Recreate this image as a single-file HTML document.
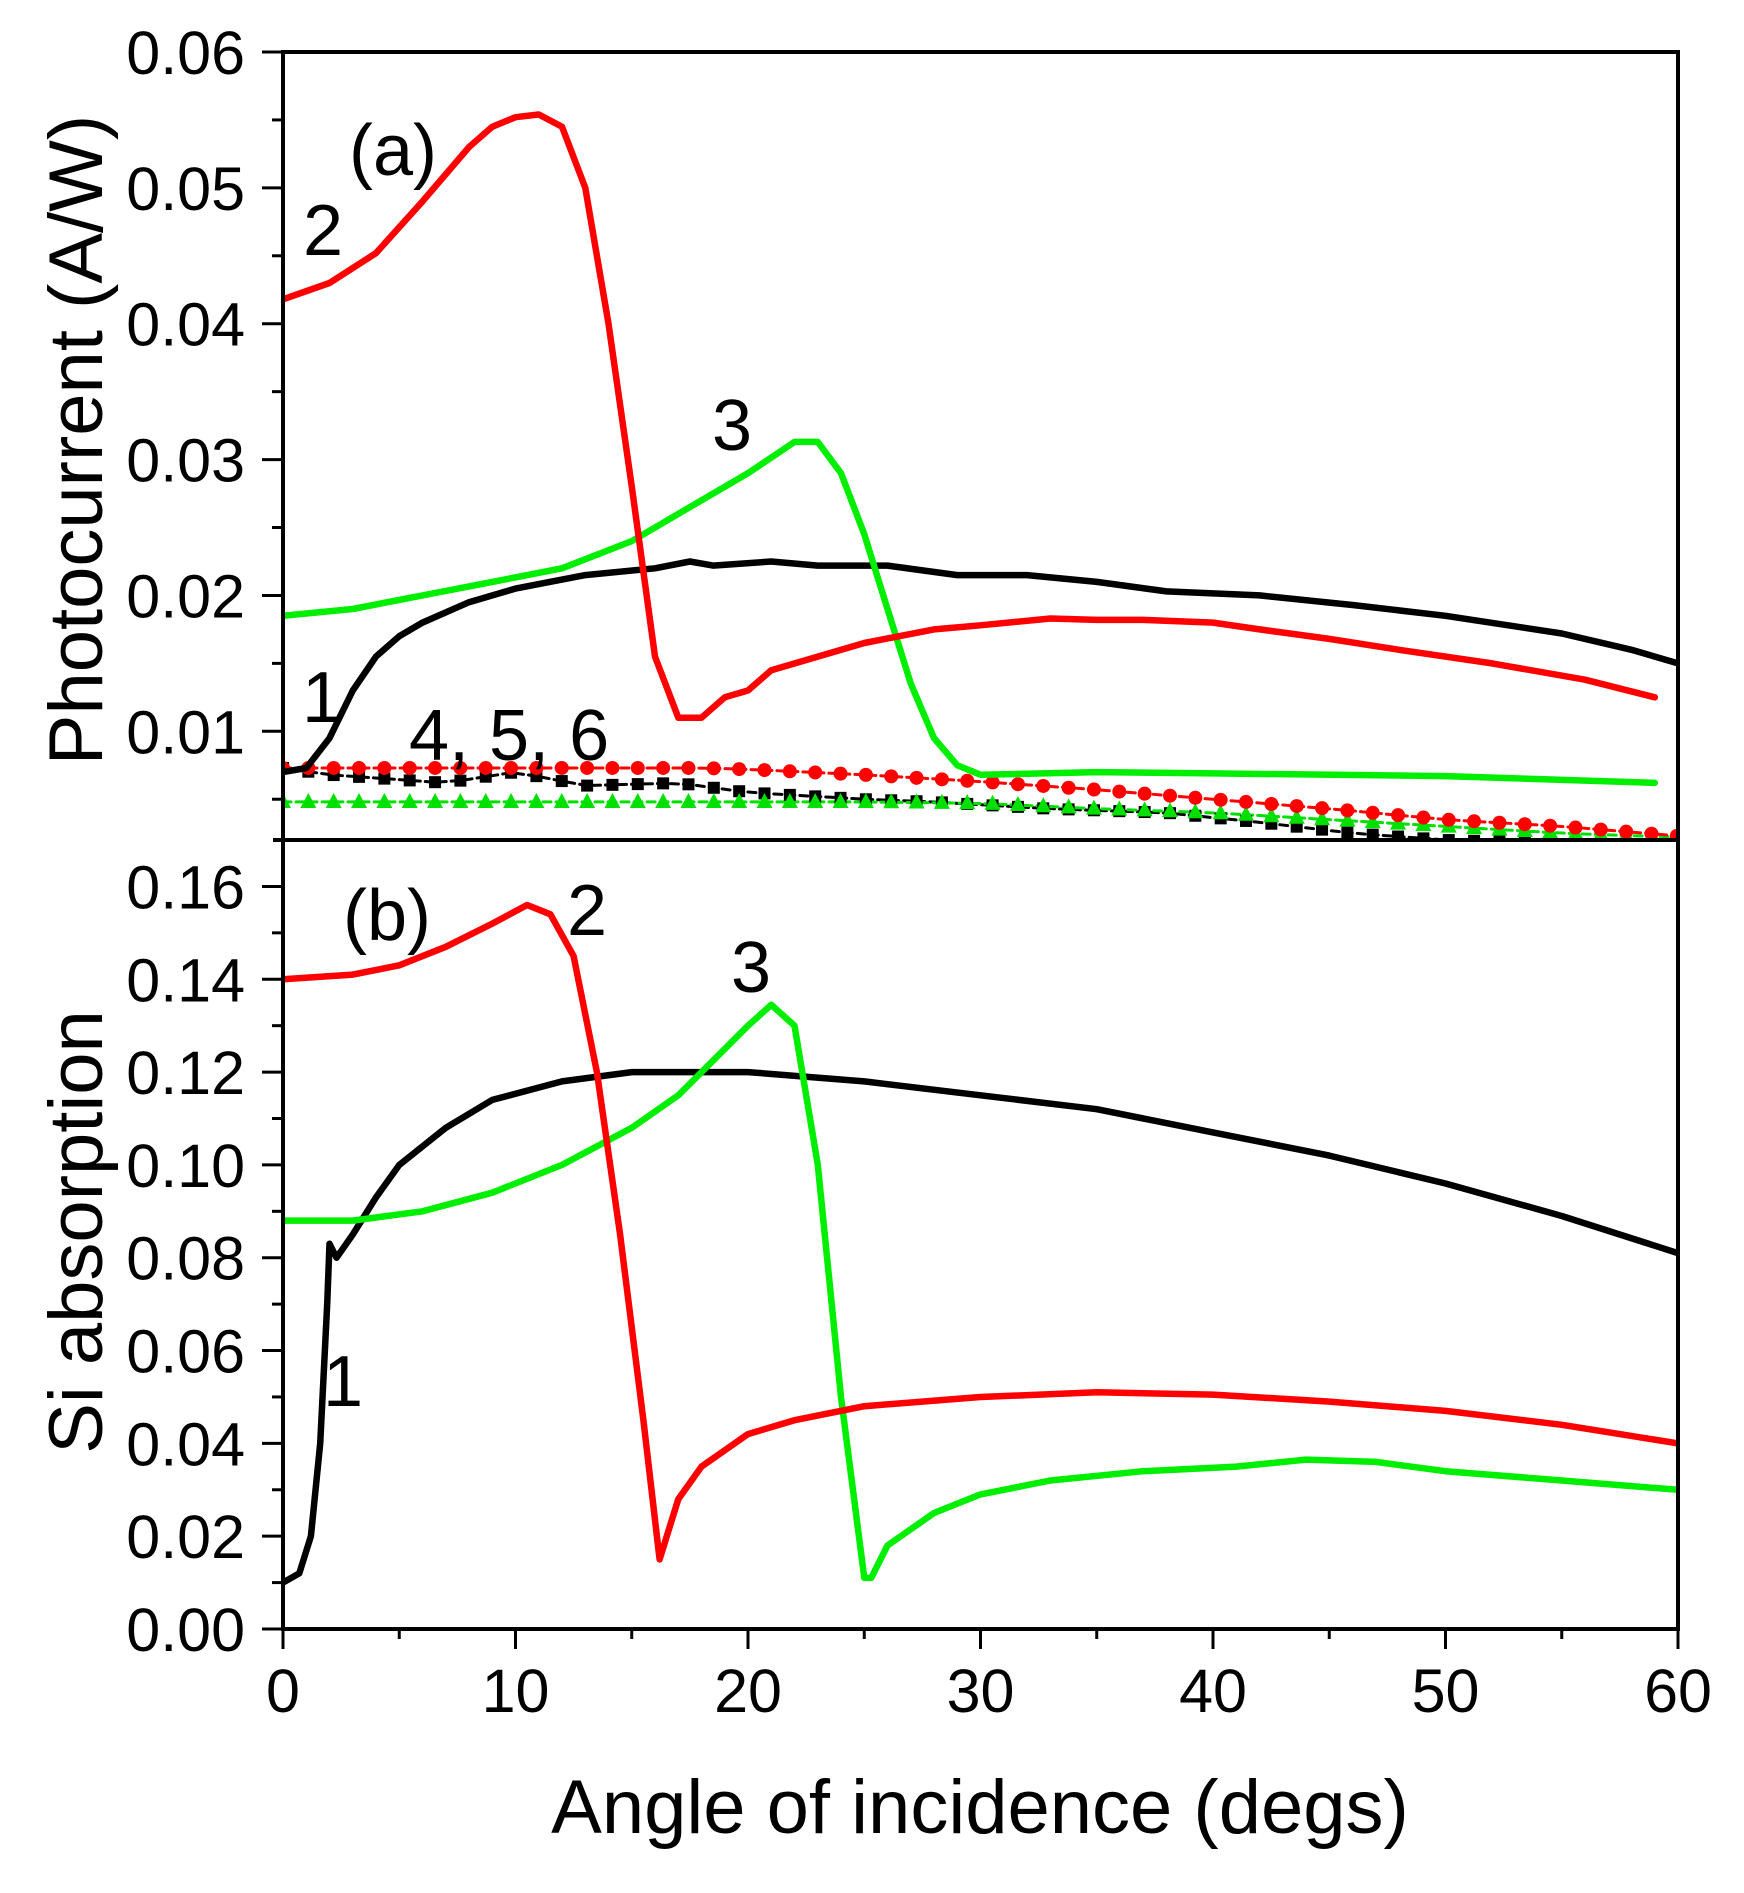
<!DOCTYPE html>
<html><head><meta charset="utf-8"><style>
body{margin:0;background:#fff}
svg text{font-family:"Liberation Sans",Arial,sans-serif;fill:#000}
</style></head><body>
<svg id="s" width="1744" height="1888" xmlns="http://www.w3.org/2000/svg">
<defs><clipPath id="ca"><rect x="283" y="52" width="1395" height="788"/></clipPath>
<clipPath id="cb"><rect x="283" y="840" width="1395" height="789"/></clipPath></defs>
<g id="g"></g>
<rect x="283" y="52" width="1395" height="1577" fill="none" stroke="#000" stroke-width="4"/>
<line x1="273" y1="840" x2="1678" y2="840" stroke="#000" stroke-width="4"/>
<g font-size="61" text-anchor="end" id="yl"></g>
<g font-size="61" text-anchor="middle" id="xl"></g>
<text x="980" y="1833" font-size="76" text-anchor="middle">Angle of incidence (degs)</text>
<text transform="translate(102,440) rotate(-90)" font-size="76" text-anchor="middle">Photocurrent (A/W)</text>
<text transform="translate(102,1232) rotate(-90)" font-size="76" text-anchor="middle">Si absorption</text>
<g font-size="72">
<text x="349" y="175">(a)</text>
<text x="303" y="255">2</text>
<text x="712" y="450">3</text>
<text x="302" y="722">1</text>
<text x="409" y="760">4, 5, 6</text>
<text x="343" y="940">(b)</text>
<text x="567" y="935">2</text>
<text x="731" y="992">3</text>
<text x="323" y="1406">1</text>
</g>
</svg>
<script>
const X=d=>283+23.25*d, Ya=v=>52+(0.06-v)*13586, Yb=v=>1629-v*4641;
const g=document.getElementById('g');let h='';
function interp(p,x){for(let i=0;i<p.length-1;i++){if(x>=p[i][0]&&x<=p[i+1][0]){const t=(x-p[i][0])/(p[i+1][0]-p[i][0]);return p[i][1]+t*(p[i+1][1]-p[i][1]);}}return p[p.length-1][1];}
function path(p,Y,c,clip,w,dash){return `<path clip-path="url(#${clip})" d="M${p.map(q=>X(q[0]).toFixed(1)+','+Y(q[1]).toFixed(1)).join('L')}" fill="none" stroke="${c}" stroke-width="${w||6.5}" stroke-linejoin="round" stroke-linecap="round" ${dash?'stroke-dasharray="'+dash+'"':''}/>`;}
const a2=[[0,0.0418],[2,0.043],[4,0.0452],[6,0.049],[8,0.053],[9,0.0545],[10,0.0552],[11,0.0554],[12,0.0545],[13,0.050],[14,0.040],[15,0.028],[16,0.0155],[17,0.011],[18,0.011],[19,0.0125],[20,0.013],[21,0.0145],[23,0.0155],[25,0.0165],[28,0.0175],[30,0.0178],[33,0.0183],[35,0.0182],[37,0.0182],[40,0.018],[42,0.0175],[45,0.0168],[48,0.016],[52,0.015],[56,0.0138],[59,0.0125]];
const a3=[[0,0.0185],[3,0.019],[6,0.02],[9,0.021],[12,0.022],[15,0.024],[18,0.027],[20,0.029],[22,0.0313],[23,0.0313],[24,0.029],[25,0.0245],[26,0.019],[27,0.0135],[28,0.0095],[29,0.0075],[30,0.0068],[35,0.007],[40,0.0069],[50,0.0067],[59,0.0062]];
const a1=[[0,0.007],[1,0.0073],[2,0.0095],[3,0.013],[4,0.0155],[5,0.017],[6,0.018],[8,0.0195],[10,0.0205],[13,0.0215],[16,0.022],[17.5,0.0225],[18.5,0.0222],[21,0.0225],[23,0.0222],[26,0.0222],[29,0.0215],[32,0.0215],[35,0.021],[38,0.0203],[42,0.02],[46,0.0193],[50,0.0185],[55,0.0172],[58,0.016],[60,0.015]];
const rc=[[0,0.0073],[18,0.0073],[20,0.0072],[25,0.0068],[30,0.0063],[35,0.0057],[40,0.005],[45,0.0043],[50,0.0035],[55,0.003],[60,0.0023]];
const bs=[[0,0.0073],[2,0.0068],[7,0.0062],[10,0.007],[13,0.006],[17,0.0062],[20,0.0055],[25,0.005],[28,0.0048],[33,0.0043],[38,0.004],[42,0.0033],[46,0.0025],[50,0.002],[60,0.0015]];
const gt=[[0,0.0048],[25,0.0048],[30,0.0047],[35,0.0043],[40,0.004],[45,0.0035],[50,0.003],[55,0.0025],[60,0.0022]];
const b2=[[0,0.14],[3,0.141],[5,0.143],[7,0.147],[9,0.152],[10.5,0.156],[11.5,0.154],[12.5,0.145],[13.5,0.12],[14.5,0.085],[15.5,0.045],[16.2,0.015],[17,0.028],[18,0.035],[20,0.042],[22,0.045],[25,0.048],[30,0.050],[35,0.051],[40,0.0505],[45,0.049],[50,0.047],[55,0.044],[60,0.04]];
const b3=[[0,0.088],[3,0.088],[6,0.09],[9,0.094],[12,0.1],[15,0.108],[17,0.115],[19,0.125],[20,0.13],[21,0.1345],[22,0.13],[23,0.1],[24,0.05],[25,0.011],[25.3,0.011],[26,0.018],[28,0.025],[30,0.029],[33,0.032],[37,0.034],[41,0.035],[44,0.0365],[47,0.036],[50,0.034],[55,0.032],[60,0.030]];
const b1=[[0,0.01],[0.7,0.012],[1.2,0.02],[1.6,0.04],[1.9,0.07],[2,0.083],[2.3,0.08],[3,0.085],[4,0.093],[5,0.1],[7,0.108],[9,0.114],[12,0.118],[15,0.12],[20,0.12],[25,0.118],[30,0.115],[35,0.112],[40,0.107],[45,0.102],[50,0.096],[55,0.089],[60,0.081]];
const xs=[];for(let d=0;d<=60.01;d+=1.09)xs.push(d);
function mk(p){return xs.map(d=>[d,interp(p,d)]);}
const R=mk(rc),B=mk(bs),G=mk(gt);
h+=path(B,Ya,'#000','ca',3,'8,5');
h+=path(G,Ya,'#00e000','ca',3,'8,5');
h+=path(R,Ya,'#f00','ca',3,'8,5');
h+='<g clip-path="url(#ca)">';
B.forEach(q=>h+=`<rect x="${X(q[0])-6}" y="${Ya(q[1])-6}" width="12" height="12" fill="#000"/>`);
G.forEach(q=>{const x=X(q[0]),y=Ya(q[1]);h+=`<polygon points="${x},${y-9} ${x-8},${y+6} ${x+8},${y+6}" fill="#00e000"/>`;});
R.forEach(q=>h+=`<circle cx="${X(q[0])}" cy="${Ya(q[1])}" r="7" fill="#f00"/>`);
h+='</g>';
h+=path(a1,Ya,'#000','ca');h+=path(a3,Ya,'#00ee00','ca');h+=path(a2,Ya,'#f00','ca');
h+=path(b1,Yb,'#000','cb');h+=path(b3,Yb,'#00ee00','cb');h+=path(b2,Yb,'#f00','cb');
let t='',yl='',xl='';
for(let i=1;i<=6;i++){const y=Ya(i*0.01);t+=`<line x1="262" y1="${y}" x2="283" y2="${y}" stroke="#000" stroke-width="3"/>`;yl+=`<text x="245" y="${y+22}">0.0${i}</text>`;}
for(let i=0;i<6;i++){const y=Ya(i*0.01+0.005);if(y<840)t+=`<line x1="272" y1="${y}" x2="283" y2="${y}" stroke="#000" stroke-width="3"/>`;}
for(let i=0;i<=8;i++){const v=i*0.02,y=Yb(v);t+=`<line x1="262" y1="${y}" x2="283" y2="${y}" stroke="#000" stroke-width="3"/>`;yl+=`<text x="245" y="${y+22}">${v.toFixed(2)}</text>`;
 const ym=Yb(v+0.01);if(ym>842)t+=`<line x1="272" y1="${ym}" x2="283" y2="${ym}" stroke="#000" stroke-width="3"/>`;}
for(let i=0;i<=6;i++){const x=X(i*10);t+=`<line x1="${x}" y1="1629" x2="${x}" y2="1649" stroke="#000" stroke-width="3"/>`;xl+=`<text x="${x}" y="1712">${i*10}</text>`;
 if(i<6){const xm=X(i*10+5);t+=`<line x1="${xm}" y1="1629" x2="${xm}" y2="1639" stroke="#000" stroke-width="3"/>`;}}
h+=t;g.innerHTML=h;
document.getElementById('yl').innerHTML=yl;document.getElementById('xl').innerHTML=xl;
</script>
</body></html>
